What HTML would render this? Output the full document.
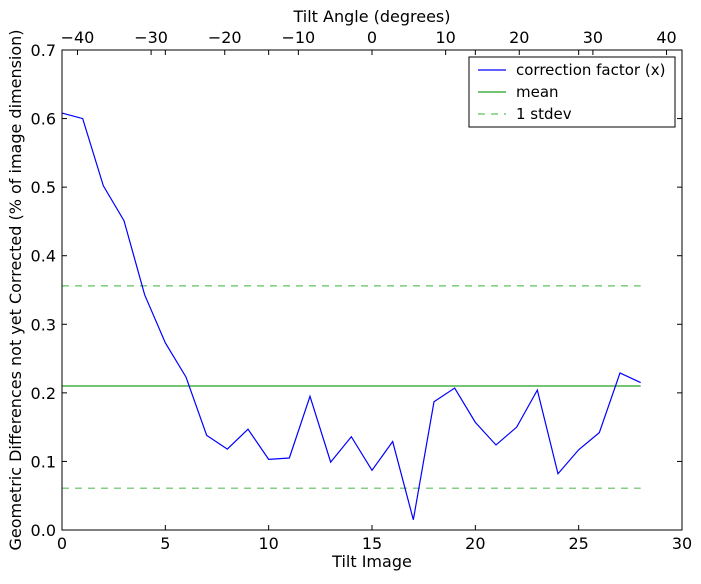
<!DOCTYPE html>
<html><head><meta charset="utf-8"><style>
body{margin:0;background:#fff;position:relative;}
svg{font-family:"DejaVu Sans","Liberation Sans",sans-serif;}
</style></head><body>
<svg id="chart" width="701" height="579" xmlns="http://www.w3.org/2000/svg"></svg>
<script>
const tiltImage = [0,1,2,3,4,5,6,7,8,9,10,11,12,13,14,15,16,17,18,19,20,21,22,23,24,25,26,27,28];
const correctionFactor = [0.608,0.600,0.502,0.451,0.343,0.273,0.223,0.138,0.118,0.147,0.103,0.105,0.195,0.099,0.136,0.087,0.129,0.015,0.187,0.207,0.157,0.124,0.150,0.204,0.082,0.117,0.142,0.229,0.215];
const meanValue = [0.210];
const stdevBounds = [0.061,0.356];
const xTicks = [0,5,10,15,20,25,30];
const yTicks = [0.0,0.1,0.2,0.3,0.4,0.5,0.6,0.7];
const topTicks = [-40,-30,-20,-10,0,10,20,30,40];

const svg = document.getElementById('chart');
const NS = 'http://www.w3.org/2000/svg';
const L=62,R=682,T=50,B=530;
const xs = v => L + (v-0)/(30-0)*(R-L);
const ys = v => B - v/0.7*(B-T);
const ts = v => L + (v+42.1)/84.2*(R-L);
function el(tag, attrs, parent){const e=document.createElementNS(NS,tag);for(const k in attrs)e.setAttribute(k,attrs[k]);(parent||svg).appendChild(e);return e;}
function fmt(v){return v<0?'\u2212'+(-v):String(v);}

const mean = el('line',{x1:xs(0),x2:xs(28),y1:ys(meanValue[0]),y2:ys(meanValue[0]),stroke:'#22a022','stroke-width':1.2});


stdevBounds.forEach((s,i)=>{
  const d = el('line',{x1:xs(0),x2:xs(28),y1:ys(s),y2:ys(s),stroke:'#5cc05c','stroke-width':1.2,'stroke-dasharray':'7,6'});
  
  
});
const pts = tiltImage.map((x,i)=>xs(x)+','+ys(correctionFactor[i])).join(' ');
const pl = el('polyline',{points:pts,fill:'none',stroke:'#0000ff','stroke-width':1.2});



const fr = el('rect',{x:L,y:T,width:R-L,height:B-T,fill:'none',stroke:'#000','stroke-width':1});



xTicks.forEach(t=>{
  const x=xs(t);
  el('line',{x1:x,x2:x,y1:B,y2:B-5,stroke:'#000'});
  el('line',{x1:x,x2:x,y1:T,y2:T+5,stroke:'#000'});
  const tx=el('text',{x:x,y:B+19,'text-anchor':'middle','font-size':16});
  tx.textContent=t;
  
  
});
yTicks.forEach(t=>{
  const y=ys(t);
  el('line',{x1:L,x2:L+5,y1:y,y2:y,stroke:'#000'});
  el('line',{x1:R,x2:R-5,y1:y,y2:y,stroke:'#000'});
  const tx=el('text',{x:L-6,y:y+6,'text-anchor':'end','font-size':16});
  tx.textContent=t.toFixed(1);
  
  
});
topTicks.forEach(t=>{
  const x=ts(t);
  el('line',{x1:x,x2:x,y1:T,y2:T+5,stroke:'#000'});
  const tx=el('text',{x:x,y:T-7,'text-anchor':'middle','font-size':16});
  tx.textContent=fmt(t);
  
  
});
</script>
<svg width="701" height="579" style="position:absolute;left:0;top:0" xmlns="http://www.w3.org/2000/svg">
<text x="372" y="567" text-anchor="middle" font-size="16">Tilt Image</text>
<text x="372" y="22" text-anchor="middle" font-size="16">Tilt Angle (degrees)</text>
<text transform="translate(21,290) rotate(-90)" text-anchor="middle" font-size="16">Geometric Differences not yet Corrected (% of image dimension)</text>
<g>
<rect x="469" y="57" width="206" height="70" fill="#fff" stroke="#000" stroke-width="1"/>
<line x1="478" x2="506" y1="70" y2="70" stroke="#0000ff" stroke-width="1.2"/>
<text x="516" y="75" font-size="15">correction factor (x)</text>
<line x1="478" x2="506" y1="92" y2="92" stroke="#22a022" stroke-width="1.2"/>
<text x="516" y="97" font-size="15">mean</text>
<line x1="478" x2="506" y1="114" y2="114" stroke="#5cc05c" stroke-width="1.2" stroke-dasharray="7,6"/>
<text x="516" y="119" font-size="15">1 stdev</text>
</g>
</svg>
</body></html>
